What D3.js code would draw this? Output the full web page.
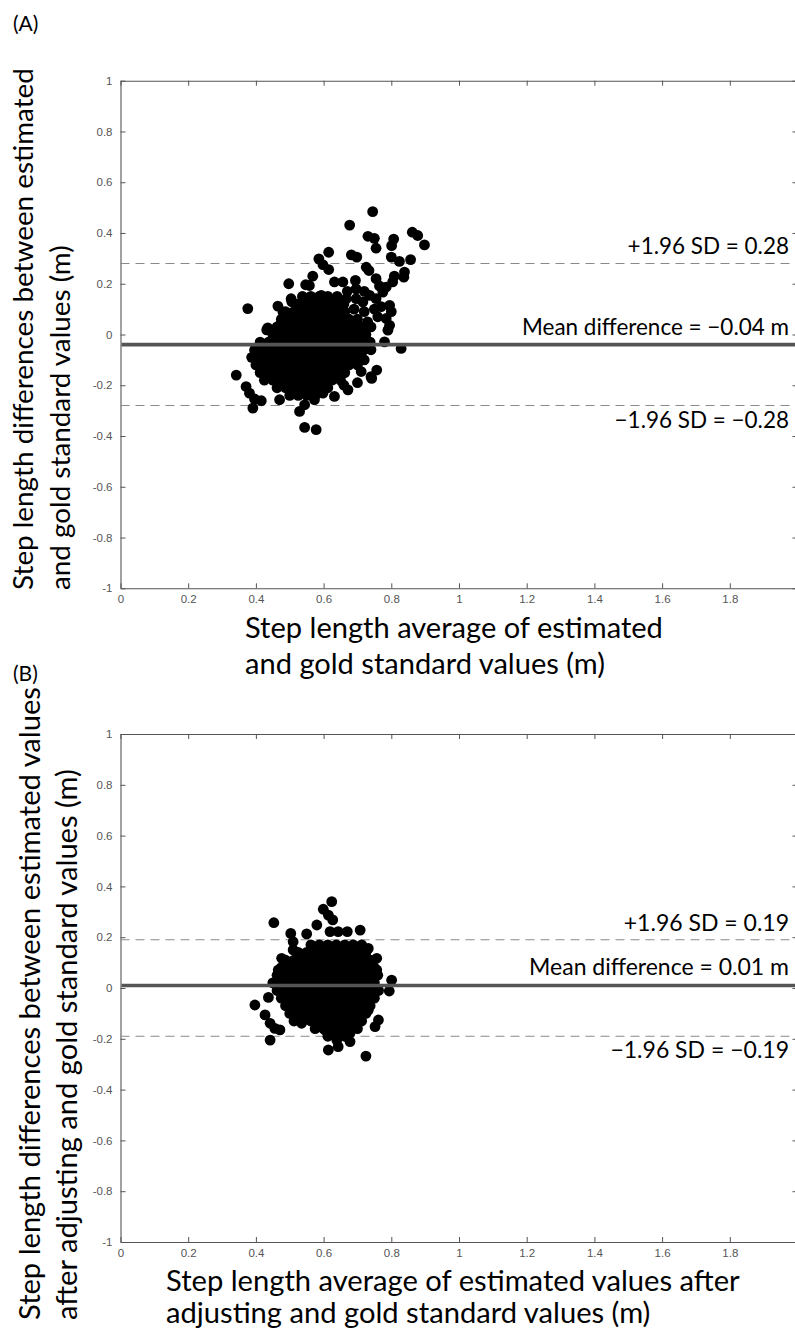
<!DOCTYPE html>
<html><head><meta charset="utf-8">
<script src="https://cdn.jsdelivr.net/npm/d3@7"></script>
<style>html,body{margin:0;padding:0;background:#fff;}svg{display:block;}</style>
</head><body>
<svg id="c" width="795" height="1331"></svg>
<script>
// ---------- data ----------
const xTicks = [0,0.2,0.4,0.6,0.8,1,1.2,1.4,1.6,1.8,2];
const yTicks = [1,0.8,0.6,0.4,0.2,0,-0.2,-0.4,-0.6,-0.8,-1];
const xTickLabels = ["0","0.2","0.4","0.6","0.8","1","1.2","1.4","1.6","1.8",""];
const yTickLabels = ["1","0.8","0.6","0.4","0.2","0","-0.2","-0.4","-0.6","-0.8","-1"];

const statsA = {mean:-0.04, upper:0.28, lower:-0.28};
const statsB = {mean:0.01, upper:0.19, lower:-0.19};
const labelsA = ["+1.96 SD = 0.28","Mean difference = \u22120.04 m","\u22121.96 SD = \u22120.28"];
const labelsB = ["+1.96 SD = 0.19","Mean difference = 0.01 m","\u22121.96 SD = \u22120.19"];

const xLabelA = ["Step length average of estimated","and gold standard values (m)"];
const yLabelA = ["Step length differences between estimated","and gold standard values (m)"];
const xLabelB = ["Step length average of estimated values after","adjusting and gold standard values (m)"];
const yLabelB = ["Step length differences between estimated values","after adjusting and gold standard values (m)"];

// Panel A: scattered points [average, difference]
const outerA = [
 [0.745,0.484],[0.677,0.431],[0.862,0.403],[0.878,0.39],[0.898,0.353],[0.731,0.387],[0.75,0.379],
 [0.755,0.34],[0.807,0.376],[0.801,0.35],[0.615,0.324],[0.682,0.314],[0.698,0.305],[0.586,0.298],
 [0.598,0.275],[0.615,0.256],[0.8,0.305],[0.824,0.288],[0.857,0.295],[0.726,0.265],[0.734,0.252],
 [0.839,0.246],[0.837,0.226],[0.809,0.23],[0.804,0.207],[0.785,0.187],[0.568,0.23],[0.558,0.193],
 [0.547,0.196],[0.497,0.2],[0.632,0.207],[0.657,0.207],[0.694,0.213],[0.696,0.18],[0.755,0.22],
 [0.765,0.191],[0.593,0.154],[0.578,0.141],[0.504,0.141],[0.376,0.102],[0.465,0.112],[0.48,0.089],
 [0.534,0.095],[0.506,0.129],[0.667,0.141],[0.696,0.141],[0.716,0.128],[0.736,0.154],[0.755,0.141],
 [0.775,0.167],[0.795,0.115],[0.785,0.063],[0.795,0.036],[0.435,0.026],[0.47,0.036],[0.484,0.01],
 [0.829,-0.055],[0.78,-0.029],[0.79,0.017],[0.8,0.09],[0.342,-0.16],[0.371,-0.205],[0.381,-0.231],
 [0.396,-0.254],[0.416,-0.261],[0.391,-0.29],[0.396,-0.061],[0.47,-0.257],[0.529,-0.303],
 [0.544,-0.277],[0.544,-0.366],[0.578,-0.375],[0.573,-0.257],[0.598,-0.231],[0.632,-0.244],
 [0.672,-0.218],[0.74,-0.166],[0.757,-0.14],[0.742,-0.173],[0.711,-0.146],[0.70,-0.19],[0.66,-0.20],
 [0.72,-0.10],[0.74,-0.06],[0.66,0.12],[0.69,0.10],[0.72,0.09],[0.75,0.10],[0.70,0.06],[0.73,0.05],
 [0.76,0.07],[0.68,0.03],[0.71,0.02],[0.74,0.03],[0.77,0.11],[0.64,0.15],[0.67,0.17],[0.72,0.17],
 [0.62,0.13],[0.432,0.018]
];
// Panel A: dense core, rows of [difference, averages]
const coreA = [
 [0.15,[0.5375,0.5625,0.5875,0.6125]],
 [0.12,[0.525,0.55,0.575,0.60,0.625,0.65]],
 [0.09,[0.4875,0.5125,0.5375,0.5625,0.5875,0.6125,0.6375,0.6625]],
 [0.06,[0.475,0.50,0.525,0.55,0.575,0.60,0.625,0.65,0.675]],
 [0.03,[0.4625,0.4875,0.5125,0.5375,0.5625,0.5875,0.6125,0.6375,0.6625,0.6875,0.7125]],
 [0.00,[0.45,0.475,0.50,0.525,0.55,0.575,0.60,0.625,0.65,0.675,0.70,0.725]],
 [-0.03,[0.4125,0.4375,0.4625,0.4875,0.5125,0.5375,0.5625,0.5875,0.6125,0.6375,0.6625,0.6875,0.7125,0.7375]],
 [-0.06,[0.40,0.425,0.45,0.475,0.50,0.525,0.55,0.575,0.60,0.625,0.65,0.675,0.70,0.72]],
 [-0.09,[0.3875,0.4125,0.4375,0.4625,0.4875,0.5125,0.5375,0.5625,0.5875,0.6125,0.6375,0.6625,0.6875,0.7125]],
 [-0.12,[0.40,0.425,0.45,0.475,0.50,0.525,0.55,0.575,0.60,0.625,0.65,0.675,0.70]],
 [-0.15,[0.4125,0.4375,0.4625,0.4875,0.5125,0.5375,0.5625,0.5875,0.6125,0.6375,0.6625]],
 [-0.18,[0.425,0.45,0.475,0.50,0.525,0.55,0.575,0.60,0.625,0.65]],
 [-0.21,[0.4625,0.4875,0.5125,0.5375,0.5625,0.5875,0.6125]],
 [-0.24,[0.50,0.525,0.55,0.575]]
];

// Panel B: scattered points
const outerB = [
 [0.624,0.340],[0.599,0.31],[0.614,0.287],[0.627,0.268],[0.453,0.257],[0.58,0.248],[0.503,0.215],
 [0.55,0.213],[0.619,0.222],[0.643,0.222],[0.67,0.222],[0.708,0.228],[0.51,0.182],[0.51,0.15],
 [0.476,0.117],[0.466,0.071],[0.732,0.156],[0.757,0.117],[0.757,0.071],[0.801,0.031],[0.794,-0.012],
 [0.397,-0.067],[0.437,-0.037],[0.427,-0.106],[0.442,-0.139],[0.456,-0.159],[0.471,-0.165],
 [0.442,-0.205],[0.535,-0.139],[0.604,-0.165],[0.614,-0.244],[0.643,-0.231],[0.678,-0.211],
 [0.725,-0.268],[0.762,-0.126],[0.752,-0.152],[0.742,-0.034],[0.732,-0.087],[0.698,-0.152],
 [0.678,-0.178],[0.639,-0.205]
];
// Panel B: dense core rows
const coreB = [
 [0.17,[0.5625,0.5875,0.6125,0.6375,0.6625,0.6875,0.7125]],
 [0.14,[0.525,0.55,0.575,0.60,0.625,0.65,0.675,0.70,0.725]],
 [0.11,[0.4875,0.5125,0.5375,0.5625,0.5875,0.6125,0.6375,0.6625,0.6875,0.7125,0.7375]],
 [0.08,[0.475,0.50,0.525,0.55,0.575,0.60,0.625,0.65,0.675,0.70,0.725,0.75]],
 [0.05,[0.4625,0.4875,0.5125,0.5375,0.5625,0.5875,0.6125,0.6375,0.6625,0.6875,0.7125,0.7375,0.76]],
 [0.02,[0.45,0.475,0.50,0.525,0.55,0.575,0.60,0.625,0.65,0.675,0.70,0.725,0.75]],
 [-0.01,[0.4625,0.4875,0.5125,0.5375,0.5625,0.5875,0.6125,0.6375,0.6625,0.6875,0.7125,0.7375,0.7625]],
 [-0.04,[0.475,0.50,0.525,0.55,0.575,0.60,0.625,0.65,0.675,0.70,0.725,0.75]],
 [-0.07,[0.4875,0.5125,0.5375,0.5625,0.5875,0.6125,0.6375,0.6625,0.6875,0.7125,0.7375]],
 [-0.10,[0.50,0.525,0.55,0.575,0.60,0.625,0.65,0.675,0.70,0.725]],
 [-0.13,[0.5125,0.5375,0.5625,0.5875,0.6125,0.6375,0.6625,0.6875,0.7125]],
 [-0.16,[0.575,0.60,0.625,0.65,0.675,0.70]],
 [-0.19,[0.6125,0.6375,0.6625]]
];

// ---------- drawing ----------
const svg = d3.select("#c");
const FONT = "Lato, 'Open Sans', sans-serif";
const TICKFONT = "'Liberation Sans Narrow', 'Liberation Sans', Arial, sans-serif";

function flat(outer, core){
  return outer.concat(core.flatMap(([y,xs]) => xs.map(x => [x,y])));
}

function fitLines(g, lines, target, baseSize){
  const ts = g.selectAll("text").data(lines).join("text")
    .attr("font-family", FONT).attr("font-size", baseSize).attr("fill","#000")
    .text(d => d);
  const w = ts.nodes()[0].getComputedTextLength();
  ts.attr("font-size", baseSize * target / w);
  return ts;
}

function panel(cfg){
  const x = d3.scaleLinear().domain([0,2]).range([cfg.left, cfg.right]);
  const y = d3.scaleLinear().domain([-1,1]).range([cfg.bottom, cfg.top]);
  const g = svg.append("g");

  const axB = g.append("g").attr("transform",`translate(0,${cfg.bottom})`)
    .call(d3.axisBottom(x).tickValues(xTicks).tickFormat((d,i)=>xTickLabels[i]).tickSize(-5).tickSizeOuter(0).tickPadding(7));
  const axT = g.append("g").attr("transform",`translate(0,${cfg.top})`)
    .call(d3.axisTop(x).tickValues(xTicks).tickFormat("").tickSize(-5).tickSizeOuter(0));
  const axL = g.append("g").attr("transform",`translate(${cfg.left},0)`)
    .call(d3.axisLeft(y).tickValues(yTicks).tickFormat((d,i)=>yTickLabels[i]).tickSize(-5).tickSizeOuter(0).tickPadding(8));
  const axR = g.append("g").attr("transform",`translate(${cfg.right},0)`)
    .call(d3.axisRight(y).tickValues(yTicks).tickFormat("").tickSize(-5).tickSizeOuter(0));
  [axB,axT,axL,axR].forEach(a=>{
    a.select(".domain").attr("stroke","#555").attr("stroke-width",1.1);
    a.selectAll(".tick line").attr("stroke","#555");
    a.selectAll(".tick text").attr("fill","#555").attr("font-family",TICKFONT).attr("font-size",11.5);
  });

  const lx = [0,2];
  g.append("line").attr("x1",x(lx[0])).attr("x2",x(lx[1])).attr("y1",y(cfg.stats.upper)).attr("y2",y(cfg.stats.upper))
    .attr("stroke","#8a8a8a").attr("stroke-width",1.1).attr("stroke-dasharray","9,6");
  g.append("line").attr("x1",x(lx[0])).attr("x2",x(lx[1])).attr("y1",y(cfg.stats.lower)).attr("y2",y(cfg.stats.lower))
    .attr("stroke","#8a8a8a").attr("stroke-width",1.1).attr("stroke-dasharray","9,6");

  g.append("g").selectAll("circle").data(cfg.points).join("circle")
    .attr("cx", d => x(d[0])).attr("cy", d => y(d[1])).attr("r", 5.4).attr("fill","#000");

  g.append("line").attr("x1",x(lx[0])+1).attr("x2",x(lx[1])).attr("y1",y(cfg.stats.mean)).attr("y2",y(cfg.stats.mean))
    .attr("stroke","#555").attr("stroke-width",3.6);

  const ann = g.append("g");
  const at = ann.selectAll("text").data(cfg.ann).join("text")
    .attr("font-family",FONT).attr("font-size",20).attr("fill","#000").attr("text-anchor","end")
    .attr("x", 789).text(d=>d);
  const wMean = at.nodes()[1].getComputedTextLength();
  const fs = 20 * cfg.meanW / wMean;
  at.attr("font-size", fs)
    .attr("y", (d,i) => i===0 ? y(cfg.stats.upper)-9 : i===1 ? y(cfg.stats.mean)-10 : y(cfg.stats.lower)+22);

  const xl = g.append("g");
  fitLines(xl, cfg.xLabel, cfg.xLabelW, 26)
    .attr("x", cfg.xLabelX).attr("y", (d,i)=> cfg.xLabelY[i]);
  const yl = g.append("g");
  fitLines(yl, cfg.yLabel, cfg.yLabelW, 26)
    .attr("transform",(d,i)=>`translate(${cfg.yLabelBase + i*37},${cfg.yLabelStart}) rotate(-90)`);

  svg.append("text").attr("x",cfg.tagX).attr("y",cfg.tagY).attr("font-family",FONT).attr("font-size",21)
    .attr("fill","#000").text(cfg.tag);
}

panel({top:80.7, bottom:588.3, left:120.5, right:797.5, stats:statsA, ann:labelsA, meanW:267,
  points: flat(outerA, coreA), xLabel:xLabelA, xLabelW:418, xLabelX:245, xLabelY:[638,674],
  yLabel:yLabelA, yLabelW:522, yLabelBase:33, yLabelStart:590, tag:"(A)", tagX:13, tagY:31});
panel({top:734, bottom:1242, left:120.5, right:797.5, stats:statsB, ann:labelsB, meanW:260,
  points: flat(outerB, coreB), xLabel:xLabelB, xLabelW:574, xLabelX:166, xLabelY:[1291,1323],
  yLabel:yLabelB, yLabelW:633, yLabelBase:40, yLabelStart:1320, tag:"(B)", tagX:13, tagY:681});
</script>
</body></html>
